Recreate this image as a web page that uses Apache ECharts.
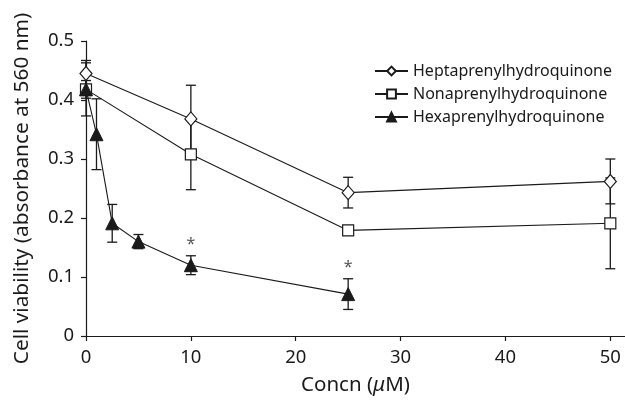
<!DOCTYPE html>
<html>
<head>
<meta charset="utf-8">
<script src="https://cdn.jsdelivr.net/npm/echarts@6/dist/echarts.min.js"></script>
<style>html,body{margin:0;padding:0;background:#fff}#c{width:625px;height:401px}</style>
</head>
<body>
<div id="c"></div>
<script>
const seriesNames = ['Heptaprenylhydroquinone', 'Nonaprenylhydroquinone', 'Hexaprenylhydroquinone'];
const heptaConc = [0, 10, 25, 50];
const heptaVal = [0.445, 0.368, 0.243, 0.262];
const heptaErr = [0.022, 0.057, 0.026, 0.038];
const nonaConc = [0, 10, 25, 50];
const nonaVal = [0.418, 0.308, 0.179, 0.191];
const nonaErr = [0.015, 0.060, 0.004, 0.077];
const hexaConc = [0, 1, 2.5, 5, 10, 25];
const hexaVal = [0.418, 0.342, 0.191, 0.160, 0.120, 0.071];
const hexaErr = [0.045, 0.060, 0.032, 0.012, 0.016, 0.026];
const starConc = [10, 25];
const xTicks = [0, 10, 20, 30, 40, 50];
const yTicks = [0, 0.1, 0.2, 0.3, 0.4, 0.5];

const FONT = 'Noto Sans';
const INK = '#1a1a1a';

function pts(xs, ys) { return xs.map((x, i) => [x, ys[i]]); }
function errs(xs, ys, es) { return xs.map((x, i) => [x, ys[i] - es[i], ys[i] + es[i]]); }

function errRender(params, api) {
  const x = api.value(0), lo = api.value(1), hi = api.value(2);
  const p1 = api.coord([x, hi]), p2 = api.coord([x, lo]);
  const w = 5;
  const st = { stroke: INK, lineWidth: 1.3 };
  return {
    type: 'group',
    children: [
      { type: 'line', shape: { x1: p1[0], y1: p1[1], x2: p2[0], y2: p2[1] }, style: st },
      { type: 'line', shape: { x1: p1[0] - w, y1: p1[1], x2: p1[0] + w, y2: p1[1] }, style: st },
      { type: 'line', shape: { x1: p2[0] - w, y1: p2[1], x2: p2[0] + w, y2: p2[1] }, style: st }
    ]
  };
}

const starData = starConc.map(c => {
  const i = hexaConc.indexOf(c);
  return [c, hexaVal[i] + hexaErr[i]];
});

function starRender(params, api) {
  const p = api.coord([api.value(0), api.value(1)]);
  return {
    type: 'text',
    style: { text: '*', x: p[0], y: p[1] - 11, align: 'center', verticalAlign: 'middle', font: '16px "' + FONT + '"', fill: '#555' }
  };
}

const chart = echarts.init(document.getElementById('c'), null, { renderer: 'canvas' });
chart.setOption({
  animation: false,
  backgroundColor: '#fff',
  textStyle: { fontFamily: FONT },
  grid: { left: 86, right: 0, top: 41, bottom: 61, containLabel: false },
  legend: {
    orient: 'vertical',
    left: 369,
    top: 58,
    itemWidth: 33,
    itemHeight: 11,
    itemGap: 7,
    data: seriesNames,
    textStyle: { fontFamily: FONT, fontSize: 16, color: INK, padding: [0, 0, 0, 0] }
  },
  xAxis: {
    type: 'value', min: 0, max: 51.4, interval: 10,
    name: 'Concn ({i|\u03bc}M)', nameLocation: 'middle', nameGap: 39,
    nameTextStyle: { fontFamily: FONT, fontSize: 20.5, color: INK,
      rich: { i: { fontFamily: FONT, fontSize: 20.5, fontStyle: 'italic', color: INK } } },
    axisLine: { lineStyle: { color: INK, width: 1.2 } },
    axisTick: { show: true, length: 5, lineStyle: { color: INK, width: 1.2 } },
    axisLabel: { showMaxLabel: false, fontFamily: FONT, fontSize: 18.5, color: INK, margin: 12,
      formatter: v => xTicks.indexOf(Math.round(v * 100) / 100) >= 0 ? String(v) : '' },
    splitLine: { show: false }
  },
  yAxis: {
    type: 'value', min: 0, max: 0.5, interval: 0.1,
    name: 'Cell viability (absorbance at 560 nm)', nameLocation: 'middle', nameGap: 53,
    nameTextStyle: { fontFamily: FONT, fontSize: 20.8, color: INK },
    axisLine: { show: true, lineStyle: { color: INK, width: 1.2 } },
    axisTick: { show: true, length: 5, lineStyle: { color: INK, width: 1.2 } },
    axisLabel: { fontFamily: FONT, fontSize: 18.5, color: INK, margin: 12,
      formatter: v => { const r = Math.round(v * 10) / 10; return yTicks.indexOf(r) >= 0 ? (r === 0 ? '0' : r.toFixed(1)) : ''; } },
    splitLine: { show: false }
  },
  series: [
    { type: 'custom', renderItem: errRender, data: errs(heptaConc, heptaVal, heptaErr), z: 2, silent: true },
    { type: 'custom', renderItem: errRender, data: errs(nonaConc, nonaVal, nonaErr), z: 2, silent: true },
    { type: 'custom', renderItem: errRender, data: errs(hexaConc, hexaVal, hexaErr), z: 2, silent: true },
    { name: seriesNames[0], type: 'line', data: pts(heptaConc, heptaVal), z: 3,
      symbol: 'diamond', symbolSize: [12, 14],
      lineStyle: { color: INK, width: 1.1 },
      itemStyle: { color: '#fff', borderColor: INK, borderWidth: 1.2 } },
    { name: seriesNames[1], type: 'line', data: pts(nonaConc, nonaVal), z: 3,
      symbol: 'rect', symbolSize: 11,
      lineStyle: { color: INK, width: 1.1 },
      itemStyle: { color: '#fff', borderColor: INK, borderWidth: 1.2 } },
    { name: seriesNames[2], type: 'line', data: pts(hexaConc, hexaVal), z: 4,
      symbol: 'triangle', symbolSize: [13, 13],
      lineStyle: { color: INK, width: 1.1 },
      itemStyle: { color: INK, borderColor: INK, borderWidth: 1 } },
    { type: 'custom', renderItem: starRender, data: starData, z: 5, silent: true }
  ]
});
</script>
</body>
</html>
